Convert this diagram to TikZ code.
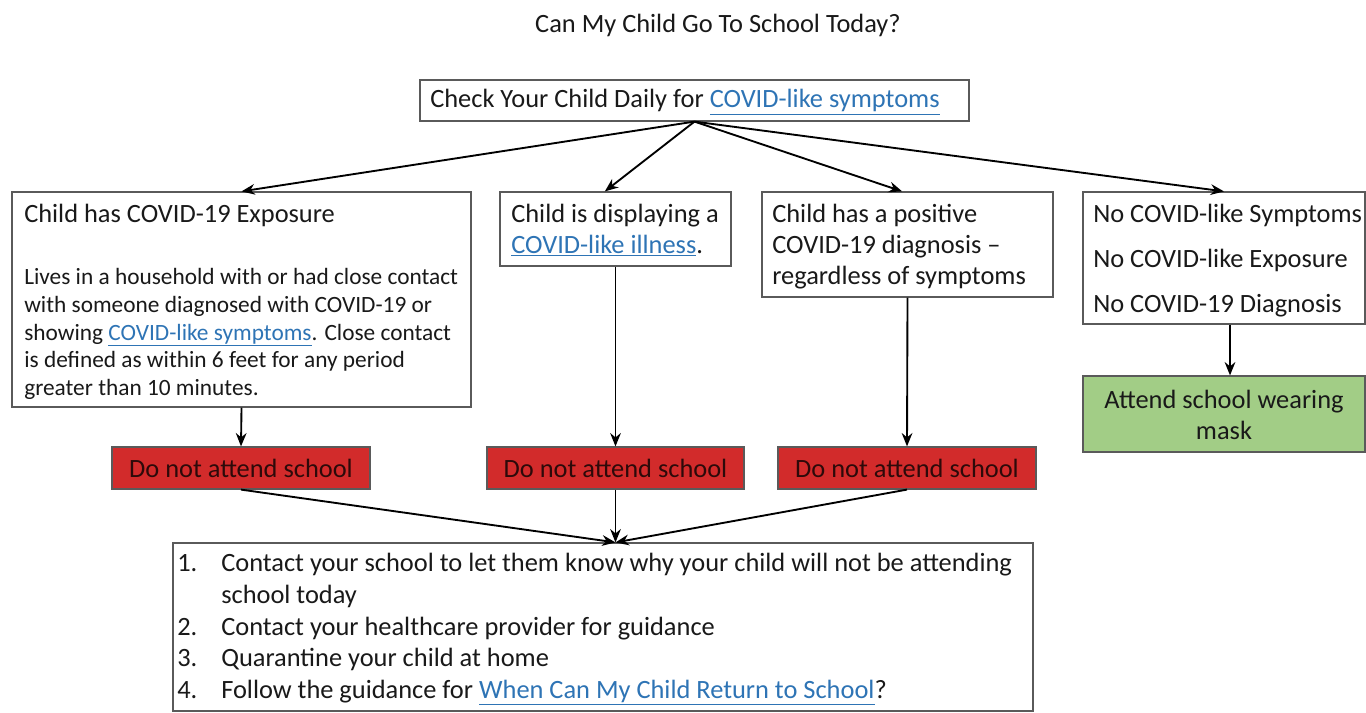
\documentclass[tikz,border=0pt]{standalone}
\usepackage{fontspec}
\setmainfont{Carlito}
\usetikzlibrary{arrows.meta,fit}
\definecolor{linkblue}{RGB}{46,116,181}
\definecolor{boxline}{RGB}{90,90,90}
\definecolor{stopred}{RGB}{210,43,43}
\definecolor{gofill}{RGB}{162,205,134}
\definecolor{stoptext}{RGB}{45,10,10}
\newcommand{\lnk}[1]{\textcolor{linkblue}{\underline{#1}}}
\begin{document}
\begin{tikzpicture}[x=0.75pt,y=-0.75pt,
  box/.style={draw=boxline,line width=0.9pt,inner sep=0pt},
  stopbox/.style={box,fill=stopred},
  gobox/.style={box,fill=gofill},
  big/.style={font=\fontsize{19.8}{23}\selectfont,text={rgb,255:red,25;green,25;blue,25}},
  lbl/.style={big,inner sep=0pt,anchor=base},
  txt/.style={big,anchor=base west,inner sep=0pt},
  small/.style={txt,font=\fontsize{17.5}{20}\selectfont},
  arr/.style={-{Stealth[length=10pt,width=8pt]},line width=1.4pt}]
\path[use as bounding box,fill=white] (0,0) rectangle (1366,713);

\node[big] (title) at (718,25) {Can My Child Go To School Today?};

% boxes
\node[box,fit={(420,80) (969,121)}] (top) {};
\node[box,fit={(12,192) (471,407)}] (exp) {};
\node[box,fit={(500,192) (731,266)}] (ill) {};
\node[box,fit={(762,192) (1053,297)}] (pos) {};
\node[box,fit={(1083,192) (1365,324)}] (none) {};
\node[gobox,fit={(1083,376) (1365,452)}] (go) {};
\node[stopbox,fit={(112,447) (370,489)}] (stop1) {};
\node[stopbox,fit={(487,447) (744,489)}] (stop2) {};
\node[stopbox,fit={(778,447) (1036,489)}] (stop3) {};
\node[box,fit={(173,543) (1033,711)}] (steps) {};

% texts
\node[lbl] (g1) at (1224,408) {Attend school wearing};
\node[lbl] (g2) at (1224,439) {mask};
\node[lbl,text=stoptext] (r1) at (241,477) {Do not attend school};
\node[lbl,text=stoptext] (r2) at (615.5,477) {Do not attend school};
\node[lbl,text=stoptext] (r3) at (907,477) {Do not attend school};
\node[txt] (t0) at (430,108) {Check Your Child Daily for \lnk{COVID-like symptoms}};
\node[txt] (e0) at (24,222) {Child has COVID-19 Exposure};
\node[small] (e1) at (24,284) {Lives in a household with or had close contact};
\node[small] (e2) at (24,312) {with someone diagnosed with COVID-19 or};
\node[small] (e3) at (24,340) {showing \lnk{COVID-like symptoms}. Close contact};
\node[small] (e4) at (24,367) {is defined as within 6 feet for any period};
\node[small] (e5) at (24,395) {greater than 10 minutes.};
\node[txt] (i1) at (511,222) {Child is displaying a};
\node[txt] (i2) at (511,253) {\lnk{COVID-like illness}.};
\node[txt] (p1) at (772,222) {Child has a positive};
\node[txt] (p2) at (772,253) {COVID-19 diagnosis –};
\node[txt] (p3) at (772,284) {regardless of symptoms};
\node[txt] (n1) at (1093,222) {No COVID-like Symptoms};
\node[txt] (n2) at (1093,267) {No COVID-like Exposure};
\node[txt] (n3) at (1093,312) {No COVID-19 Diagnosis};
\node[txt] (s1n) at (177,571) {1.};
\node[txt] (s1) at (221,571) {Contact your school to let them know why your child will not be attending};
\node[txt] (s1b) at (221,603) {school today};
\node[txt] (s2n) at (177,635) {2.};
\node[txt] (s2) at (221,635) {Contact your healthcare provider for guidance};
\node[txt] (s3n) at (177,666) {3.};
\node[txt] (s3) at (221,666) {Quarantine your child at home};
\node[txt] (s4n) at (177,698) {4.};
\node[txt] (s4) at (221,698) {Follow the guidance for \lnk{When Can My Child Return to School}?};

% connectors
\draw[arr] (top.south) -- (exp.north);
\draw[arr] (top.south) -- ([xshift=-8pt]ill.north);
\draw[arr] (top.south) -- ([xshift=-4pt]pos.north);
\draw[arr] (top.south) -- (none.north);
\draw[arr] (exp.south) -- (stop1.north);
\draw[arr] (ill.south) -- (stop2.north);
\draw[arr] (pos.south) -- (stop3.north);
\draw[arr] ([xshift=4.5pt]none.south) -- ([xshift=4.5pt]go.north);
\coordinate (join) at (stop2.south |- steps.north);
\draw[arr] (stop1.south) -- (join);
\draw[arr] (stop2.south) -- (join);
\draw[arr] (stop3.south) -- (join);
\end{tikzpicture}
\end{document}
